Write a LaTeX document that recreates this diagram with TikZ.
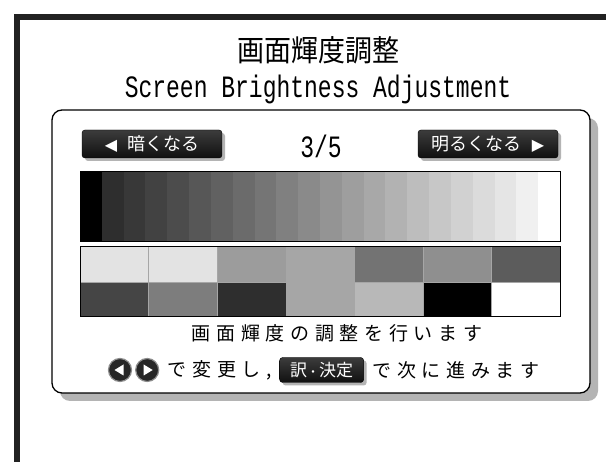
\documentclass[tikz,border=0pt]{standalone}
\usepackage{fontspec}
\setmonofont{Liberation Mono}
\newfontfamily\jpfont{Noto Sans CJK JP}
\newfontfamily\jpspaced[LetterSpace=30]{Noto Sans CJK JP}
\newfontfamily\symfont{DejaVu Sans}
\usetikzlibrary{positioning,shadows}
\definecolor{framegray}{HTML}{222222}
\definecolor{shadowgray}{HTML}{B4B4B4}
\definecolor{btntop}{HTML}{3C3C3C}
\definecolor{btnbot}{HTML}{101010}

\begin{document}
\begin{tikzpicture}[x=1pt,y=-1pt,
    darkbtn/.style={draw=black,rounded corners=3pt,top color=btntop,bottom color=btnbot,
      text=white,inner sep=0pt,
      drop shadow={shadow xshift=3pt,shadow yshift=-3pt,fill=shadowgray,opacity=1}},
    roundkey/.style={circle,fill=black!85,draw=black!45,line width=1.2pt,minimum size=23pt,inner sep=0pt}]
    \useasboundingbox (0,0) rectangle (606,462);
    \fill[white] (0,0) rectangle (606,462);

    % outer frame
    \draw[framegray,line width=6pt] (17,465) -- (17,17) -- (609,17);

    % title
    \node[font=\jpfont\fontsize{27}{27}\selectfont] (title) at (318,50) {\scalebox{1}[1.1]{画面輝度調整}};
    \node[font=\ttfamily\fontsize{23}{23}\selectfont] (subtitle) at (318,89) {\scalebox{1}[1.35]{Screen Brightness Adjustment}};

    % panel and its shadow
    \fill[shadowgray,rounded corners=10pt] (60,118) rectangle (598,401);
    \draw[fill=white,line width=1.3pt,rounded corners=10pt] (52,110) rectangle (590,393);

    % buttons
    \node[darkbtn,minimum width=140pt,minimum height=28pt,font=\jpfont\fontsize{18}{18}\selectfont] (darker) at (152,144) {{\symfont\fontsize{16}{16}\selectfont ◀}\hspace{10pt}暗くなる};
    \node[font=\ttfamily\fontsize{23}{23}\selectfont] (page) at (321,146) {\scalebox{1}[1.35]{3/5}};
    \node[darkbtn,minimum width=140pt,minimum height=28pt,font=\jpfont\fontsize{18}{18}\selectfont] (brighter) at (488,144) {明るくなる\hspace{10pt}{\symfont\fontsize{16}{16}\selectfont ▶}};

    % gray steps
    \foreach \i in {0,...,21}{
      \pgfmathsetmacro\lev{\i==0 ? 100 : (\i==21 ? 0 : 82-(\i-1)*76/19)}
      \fill[black!\lev] ({80+\i*480/22},172) rectangle ({80+(\i+1)*480/22},242);
    }
    \draw[line width=1pt] (80,172) rectangle (560,242);

    % test patches
    \foreach \v [count=\k from 0] in {11,11,39,35,55,44,64}
      \fill[black!\v] ({80+\k*480/7},247) rectangle ++(480/7,35);
    \foreach \v [count=\k from 0] in {73,51,82,35,28,100,0}
      \fill[black!\v] ({80+\k*480/7},282) rectangle ++(480/7,35);
    \foreach \k in {1,...,6}
      \draw[black!35,line width=0.4pt] ({80+\k*480/7},247) -- ({80+\k*480/7},317);
    \draw[black!35,line width=0.4pt] (80,282) -- (560,282);
    \draw[line width=1pt] (80,247) rectangle (560,317);

    % messages
    \node[font=\jpspaced\fontsize{19}{19}\selectfont] (msg) at (337,333) {画面輝度の調整を行います};

    \node[roundkey] (keyl) at (120,370) {};
    \node[roundkey,right=3pt of keyl] (keyr) {};
    \fill[white] ([xshift=-5.5pt]keyl.center) -- ([xshift=3.5pt,yshift=5.5pt]keyl.center) -- ([xshift=3.5pt,yshift=-5.5pt]keyl.center) -- cycle;
    \fill[white] ([xshift=5.5pt]keyr.center) -- ([xshift=-3.5pt,yshift=5.5pt]keyr.center) -- ([xshift=-3.5pt,yshift=-5.5pt]keyr.center) -- cycle;
    \node[font=\jpspaced\fontsize{19}{19}\selectfont,right=5pt of keyr] (hint1) {で変更し,};
    \node[darkbtn,minimum width=84pt,minimum height=25pt,font=\jpfont\fontsize{17}{17}\selectfont,right=4pt of hint1] (okkey) {訳{\fontsize{12}{12}\selectfont ・}決定};
    \node[font=\jpspaced\fontsize{19}{19}\selectfont,right=5pt of okkey] (hint2) {で次に進みます};
\end{tikzpicture}
\end{document}
